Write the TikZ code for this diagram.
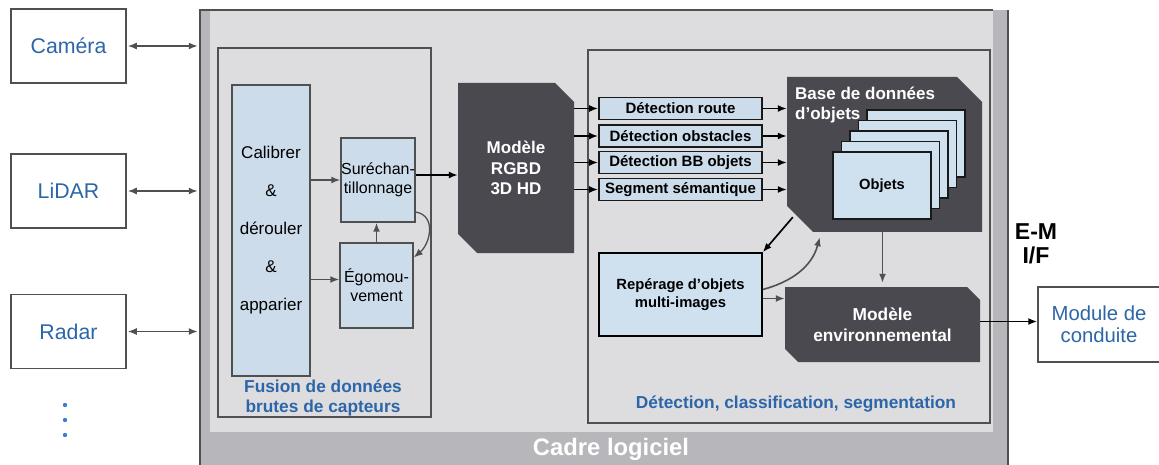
\documentclass[tikz,border=0pt]{standalone}
\usepackage{fontspec}
\setmainfont{Liberation Sans}
\usetikzlibrary{arrows.meta,calc}
\definecolor{frameL}{HTML}{DDDCDF}
\definecolor{frameS}{HTML}{B7B6BA}
\definecolor{boxB}{HTML}{CCDCEA}
\definecolor{cardB}{HTML}{CFE0EF}
\definecolor{darkF}{HTML}{4A494F}
\definecolor{txtB}{HTML}{2C66A8}
\definecolor{dotB}{HTML}{3A7FD0}
\definecolor{lineG}{HTML}{505050}
\begin{document}
\begin{tikzpicture}[x=1pt,y=-1pt,
  >={Latex[length=9pt,width=7pt]},
  garr/.style={->,draw=lineG,line width=1.6pt},
  barr/.style={->,draw=black,line width=1.7pt},
  srcarr/.style={<->,draw=lineG,line width=1.6pt,shorten >=2pt,shorten <=1pt},
  srcbox/.style={draw=lineG,line width=1.5pt,fill=white,minimum width=115,minimum height=74,
    text=txtB,align=center,inner sep=0,font=\fontsize{21.3}{23}\selectfont},
  lbox/.style={draw=lineG,line width=1.5pt,fill=boxB,align=center,inner sep=0,
    font=\fontsize{16}{19}\selectfont},
  sbox/.style={draw=black!90,line width=1.8pt,fill=boxB,minimum width=163,minimum height=22,
    inner sep=0,font=\bfseries\fontsize{15}{17}\selectfont},
  card/.style={draw=black!90,line width=1.6pt,fill=cardB},
  darktxt/.style={text=white,align=center,inner sep=0,font=\bfseries\fontsize{17}{20.5}\selectfont},
  grouplbl/.style={text=txtB,align=center,inner sep=0,font=\bfseries\fontsize{17.3}{20}\selectfont},
  region/.style={draw=lineG,line width=1.5pt,inner sep=0}
]
\useasboundingbox (0,0) rectangle (1159,465);

% software frame
\fill[frameS] (200,10) rectangle (1008,470);
\fill[frameL] (210,10) rectangle (993,432);
\draw[lineG,line width=1.5pt] (200,470) -- (200,10) -- (993,10);
\draw[lineG,line width=1.5pt] (1008,10) -- (1008,470);
\node[inner sep=0,minimum width=808,minimum height=455] (frame) at (604,237.5) {};
\node[text=white,inner sep=0,font=\bfseries\fontsize{23.8}{27}\selectfont] (cadre) at (611,449) {Cadre logiciel};

% sources
\node[srcbox] (cam) at (68.5,46) {Caméra};
\node[srcbox] (lid) at (68.5,191) {LiDAR};
\node[srcbox] (rad) at (68.5,331.5) {Radar};
\fill[dotB] (65,405) circle (2.2);
\fill[dotB] (65,420) circle (2.2);
\fill[dotB] (65,435) circle (2.2);
\draw[srcarr] (cam.east) -- (cam.east -| frame.west);
\draw[srcarr] (lid.east) -- (lid.east -| frame.west);
\draw[srcarr] (rad.east) -- (rad.east -| frame.west);

% fusion region
\node[region,minimum width=213,minimum height=369] (fus) at (324.5,232.5) {};
\node[grouplbl] (fusl) at (323,398) {Fusion de données\\brutes de capteurs};
\node[lbox,minimum width=78,minimum height=291,font=\fontsize{17}{38}\selectfont] (cal) at (271,230.5)
  {Calibrer\\\&\\dérouler\\\&\\apparier};
\node[lbox,minimum width=74,minimum height=84] (sur) at (378,180) {Suréchan-\\tillonnage};
\node[lbox,minimum width=73,minimum height=85] (ego) at (376.5,285.5) {Égomou-\\vement};
\draw[garr] (cal.east |- sur.west) -- (sur.west);
\draw[garr] ([yshift=6pt]cal.east |- ego.west) -- ([yshift=6pt]ego.west);
\draw[garr] (ego.north) -- (ego.north |- sur.south);
\draw[garr,line width=1.3pt] ([yshift=-32pt]sur.east) to[out=-10,in=40,looseness=1.2] ([yshift=28pt]ego.east);

% RGBD model
\fill[darkF] (458,83) -- (555,83) -- (574,102) -- (574,253) -- (477,253) -- (458,234) -- cycle;
\node[darktxt,minimum width=116,minimum height=170] (rgbd) at (516,168) {Modèle\\RGBD\\3D HD};
\draw[barr] ([yshift=5pt]sur.east) -- ([yshift=5pt]sur.east -| rgbd.west);

% detection region
\node[region,minimum width=402,minimum height=373] (det) at (789,236.5) {};
\node[grouplbl] (detl) at (796,404) {Détection, classification, segmentation};

\node[sbox] (r1) at (680.5,108.5) {Détection route};
\node[sbox] (r2) at (680.5,136) {Détection obstacles};
\node[sbox] (r3) at (680.5,162.5) {Détection BB objets};
\node[sbox] (r4) at (680.5,189.5) {Segment sémantique};

% object database
\fill[darkF] (787,77) -- (957,77) -- (982,102) -- (982,232) -- (813,232) -- (787,206) -- cycle;
\node[inner sep=0,minimum width=195,minimum height=155] (base) at (884.5,154.5) {};
\node[anchor=north west,text=white,align=left,inner sep=0,font=\bfseries\fontsize{17}{20}\selectfont]
  (basel) at (795,86.5) {Base de données\\d’objets};
\foreach \k in {4,3,2,1}
  \draw[card] (833+8.5*\k,152-10.5*\k) rectangle +(98,67);
\node[card,minimum width=98,minimum height=67,inner sep=0,font=\bfseries\fontsize{14.7}{17}\selectfont] (obj) at (882,185.5) {Objets};

\foreach \r in {r1,r2,r3,r4} {
  \draw[barr] (\r.west -| rgbd.east) -- (\r.west);
  \draw[barr] (\r.east) -- (\r.east -| base.west);
}

% tracking and environment model
\node[draw=black,line width=1.6pt,fill=cardB,minimum width=163,minimum height=83,align=center,inner sep=0,
  font=\bfseries\fontsize{14.8}{18}\selectfont] (rep) at (680.5,294.5) {Repérage d’objets\\multi-images};
\fill[darkF] (785,287) -- (967,287) -- (980,300) -- (980,362) -- (798,362) -- (785,349) -- cycle;
\node[darktxt,minimum width=195,minimum height=75,font=\bfseries\fontsize{17.3}{21}\selectfont] (env) at (882.5,324.5) {Modèle\\environnemental};

\draw[barr] ([xshift=6pt,yshift=15pt]base.south west) -- (rep.north east);
\draw[garr] ([yshift=5pt]rep.east) to[out=15,in=-105] ([xshift=33pt,yshift=-5pt]base.south west);
\draw[garr] ([yshift=-4pt]rep.east) -- ([yshift=-4pt]rep.east -| env.west);
\draw[garr,shorten >=4pt] (env.north |- base.south) -- (env.north);

% output
\node[draw=lineG,line width=1.5pt,fill=white,minimum width=122,minimum height=75,text=txtB,align=center,
  inner sep=0,font=\fontsize{20.3}{22}\selectfont] (mod) at (1099,324.5) {Module de\\conduite};
\draw[barr] ([yshift=3pt]env.east) -- ([yshift=3pt]env.east -| mod.west);
\node[align=center,inner sep=0,font=\bfseries\fontsize{23}{24}\selectfont] (emif) at (1036,244) {E-M\\I/F};
\end{tikzpicture}
\end{document}
